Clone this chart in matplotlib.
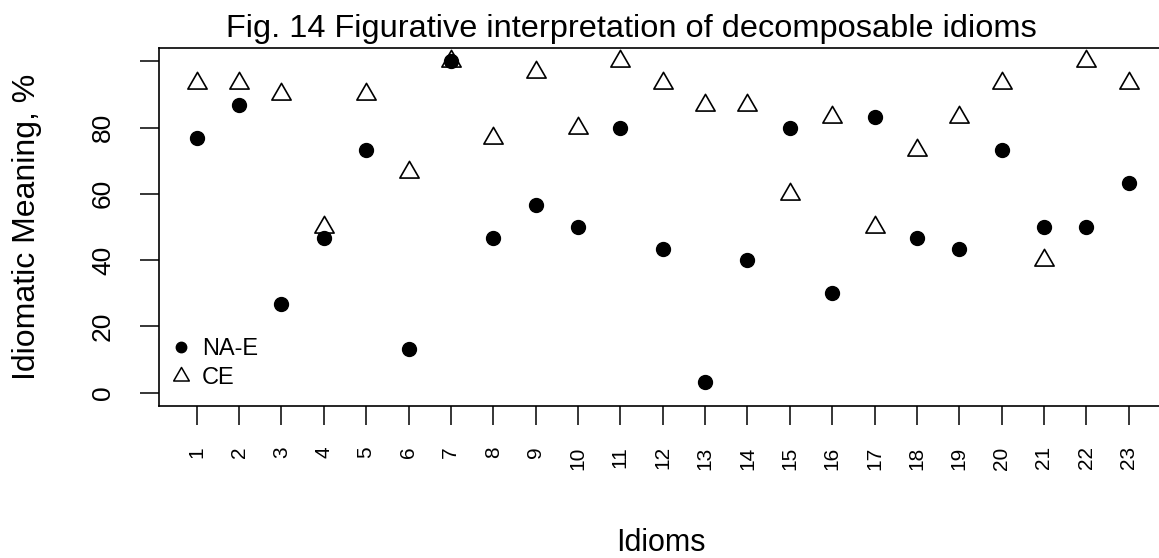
import matplotlib
matplotlib.use("Agg")
import matplotlib.pyplot as plt
from matplotlib.path import Path
from matplotlib.lines import Line2D

plt.rcParams['font.family'] = ['Liberation Sans', 'DejaVu Sans']

idioms = list(range(1, 24))
idiom_labels = [str(i) for i in idioms]
na_e = [76.7, 86.7, 26.7, 46.7, 73.3, 13.3, 100, 46.7, 56.7, 50, 80, 43.3,
        3.3, 40, 80, 30, 83.3, 46.7, 43.3, 73.3, 50, 50, 63.3]
ce = [93.3, 93.3, 90, 50, 90, 66.7, 100, 76.7, 96.7, 80, 100, 93.3,
      86.7, 86.7, 60, 83.3, 50, 73.3, 83.3, 93.3, 40, 100, 93.3]
y_ticks = [0, 20, 40, 60, 80, 100]
y_ticklabels = ['0', '20', '40', '60', '80', '']

title = "Fig. 14 Figurative interpretation of decomposable idioms"

W, H = 1159, 558
fig = plt.figure(figsize=(W / 100, H / 100), dpi=100)
left_px, right_px, top_px, bottom_px = 159.4, 1166.0, 48.0, 406.0
ax = fig.add_axes([left_px / W, (H - bottom_px) / H,
                   (right_px - left_px) / W, (bottom_px - top_px) / H])
ax.patch.set_visible(False)

# R-style triangle (pch=2): centroid at the data point
tri = Path([(0, 1), (-0.866, -0.5), (0.866, -0.5), (0, 1)],
           [Path.MOVETO, Path.LINETO, Path.LINETO, Path.CLOSEPOLY])

ax.plot(idioms, ce, linestyle='none', marker=tri, markersize=16,
        markerfacecolor='none', markeredgecolor='black', markeredgewidth=1.2,
        label='CE', zorder=3)
ax.plot(idioms, na_e, linestyle='none', marker='o', markersize=10,
        markerfacecolor='black', markeredgecolor='black', label='NA-E', zorder=4)

ax.set_xlim(0.12, 23.88)
ax.set_ylim(-4, 104)

ax.set_xticks(idioms)
ax.set_xticklabels(idiom_labels, rotation=90)
ax.set_yticks(y_ticks)
ax.set_yticklabels(y_ticklabels, rotation=90, va='center')

ax.tick_params(axis='x', length=13.5, width=1.1, pad=15.5, labelsize=15)
ax.tick_params(axis='y', length=13.5, width=1.1, pad=18.5, labelsize=19)
for s in ax.spines.values():
    s.set_linewidth(1.2)
    s.set_color('black')
ax.spines['right'].set_visible(False)

ax.set_ylabel("Idiomatic Meaning, %", fontsize=23)
ax.yaxis.set_label_coords((42 - left_px) / (right_px - left_px), 0.5)
ax.set_xlabel("Idioms", fontsize=22, va='top')
ax.xaxis.set_label_coords((661 - left_px) / (right_px - left_px),
                          (bottom_px - 528) / (bottom_px - top_px))

ax.set_title(title, fontsize=23.4, x=(631 - left_px) / (right_px - left_px),
             y=(bottom_px - 37) / (bottom_px - top_px), va='baseline', pad=0)

handles = [Line2D([], [], linestyle='none', marker='o', markersize=7.5,
                  markerfacecolor='black', markeredgecolor='black'),
           Line2D([], [], linestyle='none', marker=tri, markersize=13,
                  markerfacecolor='none', markeredgecolor='black',
                  markeredgewidth=1.1)]
ax.legend(handles, ['NA-E', 'CE'], loc='lower left',
          bbox_to_anchor=((169 - left_px) / (right_px - left_px),
                          (bottom_px - 389) / (bottom_px - top_px)),
          frameon=False, fontsize=17, handlelength=1.0, handletextpad=0.4,
          labelspacing=0.28, borderpad=0, borderaxespad=0)

fig.savefig("out.png", dpi=100)
